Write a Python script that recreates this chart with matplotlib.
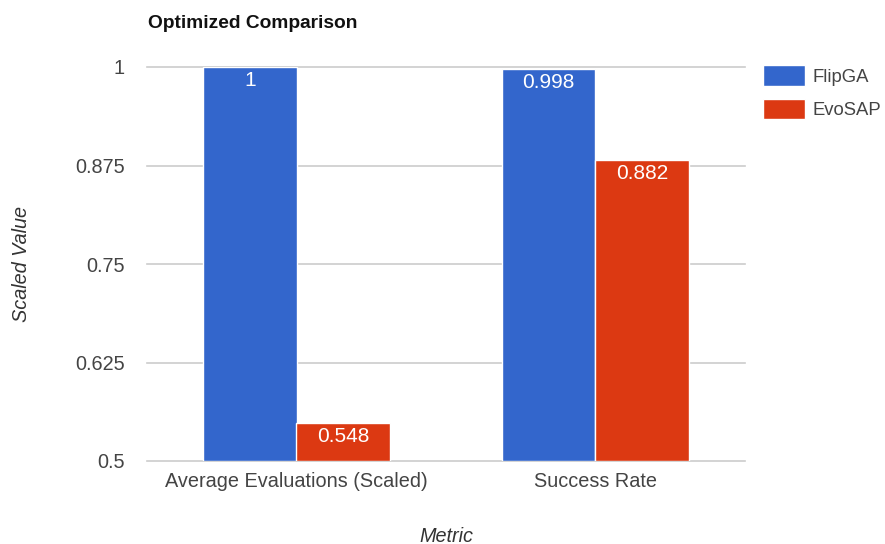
import numpy as np
import matplotlib
matplotlib.use("Agg")
import matplotlib.pyplot as plt

plt.rcParams["font.family"] = ["Liberation Sans", "DejaVu Sans"]

metrics = ["Average Evaluations (Scaled)", "Success Rate"]
series = ["FlipGA", "EvoSAP"]
flipga = [1.0, 0.998]
evosap = [0.548, 0.882]
yticks = [0.5, 0.625, 0.75, 0.875, 1.0]
ytick_labels = ["0.5", "0.625", "0.75", "0.875", "1"]

colors = ["#3366cc", "#dc3912"]

fig = plt.figure(figsize=(8.85, 5.44), dpi=100)
ax = fig.add_axes([147 / 885, 1 - 461 / 544, 598 / 885, 394 / 544])

x = np.arange(len(metrics)) + 0.5
w = 0.313
for i, (name, vals) in enumerate(zip(series, [flipga, evosap])):
    pos = x + (i - 0.5) * w
    heights = [v - 0.5 for v in vals]
    ax.bar(pos, heights, width=w, bottom=0.5, color=colors[i],
           edgecolor="white", linewidth=1, label=name, zorder=3)
    for px, v in zip(pos, vals):
        ax.annotate(f"{v:g}", xy=(px, v), xytext=(0, -3),
                    textcoords="offset points", ha="center", va="top",
                    color="white", fontsize=15, zorder=4)

ax.set_xlim(0, 2)
ax.set_ylim(0.5, 1.0)
ax.set_yticks(yticks)
ax.set_yticklabels(ytick_labels)
ax.set_xticks(x)
ax.set_xticklabels(metrics)
ax.tick_params(axis="both", length=0, labelsize=14.3, labelcolor="#444444")
ax.tick_params(axis="y", pad=16)
ax.tick_params(axis="x", pad=8)
ax.grid(axis="y", color="#cccccc", linewidth=1.2, zorder=0)
for gl in ax.get_ygridlines():
    gl.set_clip_on(False)
for s in ax.spines.values():
    s.set_visible(False)

ax.set_ylabel("Scaled Value", fontsize=14.3, style="italic", color="#333333")
ax.yaxis.label.set_va("center")
ax.yaxis.set_label_coords(-(147 - 21) / 598, 0.5)
ax.set_xlabel("Metric", fontsize=14.3, style="italic", color="#333333")
ax.xaxis.label.set_va("center")
ax.xaxis.set_label_coords(0.5, -(536 - 461) / 394)

fig.text(148 / 885, 1 - 23 / 544, "Optimized Comparison", fontsize=13.8,
         fontweight="bold", color="#111111", va="center", ha="left")

ax.legend(loc="upper left", bbox_to_anchor=(763 / 885, 1 - 65 / 544),
          bbox_transform=fig.transFigure, frameon=False, fontsize=13.3,
          handlelength=2.25, handleheight=1.35, handletextpad=0.45,
          labelspacing=0.7, borderpad=0, borderaxespad=0,
          labelcolor="#444444")

fig.savefig("out.png", dpi=100)
